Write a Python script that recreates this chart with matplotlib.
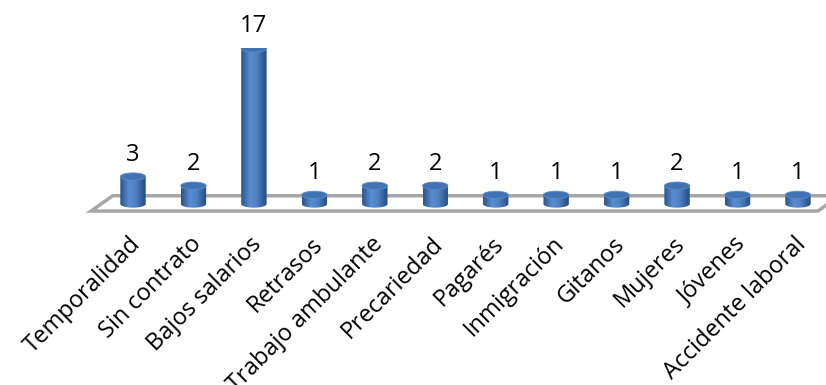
import numpy as np
import matplotlib
matplotlib.use("Agg")
import matplotlib.pyplot as plt
from matplotlib.patches import Polygon, Ellipse, PathPatch
from matplotlib.path import Path
from matplotlib.colors import to_rgb

plt.rcParams["font.family"] = ["Open Sans", "DejaVu Sans"]

categories = [
    "Temporalidad", "Sin contrato", "Bajos salarios", "Retrasos",
    "Trabajo ambulante", "Precariedad", "Pagarés", "Inmigración",
    "Gitanos", "Mujeres", "Jóvenes", "Accidente laboral",
]
values = [3, 2, 17, 1, 2, 2, 1, 1, 1, 2, 1, 1]

W, H, DPI = 826, 385, 100
fig = plt.figure(figsize=(W / DPI, H / DPI), dpi=DPI)

# axes placed so category i sits at x = 133 + 60.45*i px, value 0 at 204 px from top
px_x, px_y = 60.45, 9.15
x0, x1 = -0.7, 11.46
y0, y1 = -1.5, 17.0
left = 133 + x0 * px_x
bottom = (H - 204) + y0 * px_y
ax = fig.add_axes([left / W, bottom / H, (x1 - x0) * px_x / W, (y1 - y0) * px_y / H])
ax.set_xlim(x0, x1)
ax.set_ylim(y0, y1)
ax.axis("off")

n = len(categories)

# floor (slanted plate)
front, back = -0.77, 0.9
skew = 0.36
floor = Polygon([(-0.695, front), (n - 1 + 0.33, front),
                 (n - 1 + 0.33 + skew, back), (-0.695 + skew, back)],
                closed=True, facecolor="white", edgecolor="#a6a6a6",
                lw=2.5, zorder=1, clip_on=False)
ax.add_patch(floor)

bw = 0.42   # cylinder width (x units)
eh = 0.80   # ellipse height (y units)

stops = [(0.0, "#2a548c"), (0.35, "#5a8dcf"), (0.6, "#4f82c3"), (1.0, "#25497d")]
xs = np.linspace(0, 1, 64)
grad = np.zeros((1, 64, 3))
for c in range(3):
    grad[0, :, c] = np.interp(xs, [s[0] for s in stops], [to_rgb(s[1])[c] for s in stops])

for i, (cat, v) in enumerate(zip(categories, values)):
    xl, xr = i - bw / 2, i + bw / 2
    # body outline: rectangle plus lower half ellipse
    t = np.linspace(0, np.pi, 40)
    arc = np.column_stack([i + bw / 2 * np.cos(t), -eh / 2 * np.sin(t)])
    verts = [(xl, v)] + [tuple(p) for p in arc[::-1]] + [(xr, v), (xl, v)]
    codes = [Path.MOVETO] + [Path.LINETO] * (len(verts) - 2) + [Path.CLOSEPOLY]
    body = PathPatch(Path(verts, codes), facecolor="none", edgecolor="none", zorder=3)
    ax.add_patch(body)
    im = ax.imshow(grad, extent=[xl, xr, -eh / 2, v], aspect="auto",
                   interpolation="bilinear", zorder=3)
    im.set_clip_path(body)
    top = Ellipse((i, v), bw, eh, facecolor="#4172b3", edgecolor="#5b8bc9",
                  lw=0.6, zorder=4)
    ax.add_patch(top)

    ax.annotate(str(v), (i, v), xytext=(0, 16), textcoords="offset pixels",
                ha="center", va="baseline", fontsize=17, color="black", zorder=5)
    ax.annotate(cat, (i, 0), xytext=(-4, -28), textcoords="offset pixels",
                ha="right", va="top", rotation=45, rotation_mode="anchor",
                fontsize=17, color="black", annotation_clip=False)

ax.set_xlim(x0, x1)
ax.set_ylim(y0, y1)

fig.savefig("out.png", dpi=DPI, facecolor="white")
